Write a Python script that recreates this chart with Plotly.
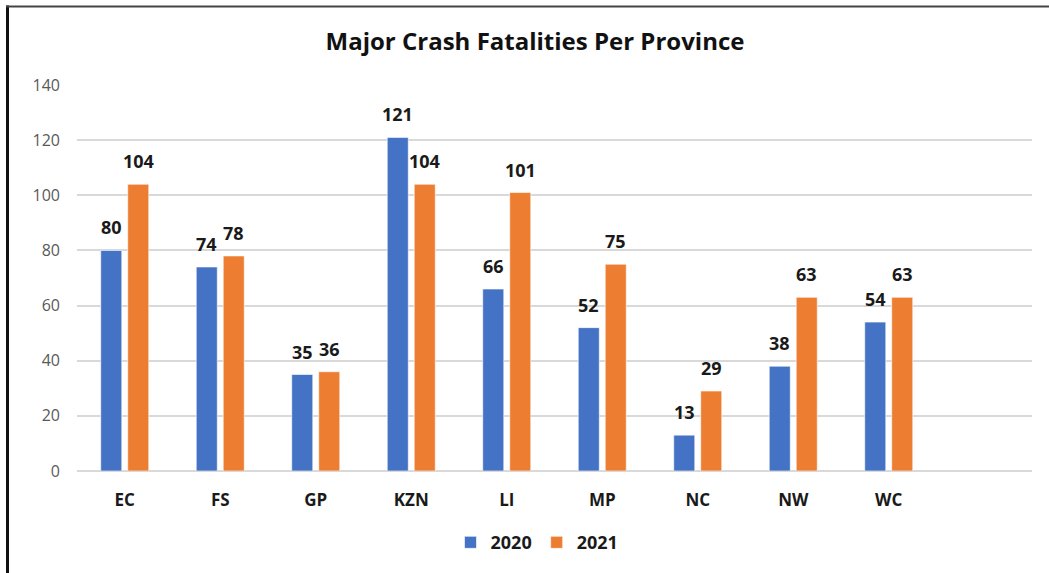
import plotly.graph_objects as go

provinces = ["EC", "FS", "GP", "KZN", "LI", "MP", "NC", "NW", "WC"]
fatalities_2020 = [80, 74, 35, 121, 66, 52, 13, 38, 54]
fatalities_2021 = [104, 78, 36, 104, 101, 75, 29, 63, 63]
y_ticks = [0, 20, 40, 60, 80, 100, 120, 140]

BLUE = "#4472C4"
ORANGE = "#ED7D31"
FONT = "Open Sans, Liberation Sans, Arial"

W, H = 1049, 573
L, R, T, B = 77, 17, 85, 100
pw = W - L - R
ph = H - T - B

fig = go.Figure()
fig.add_trace(go.Bar(name="2020", x=provinces, y=fatalities_2020,
                     marker=dict(color=BLUE, line=dict(color="rgba(255,255,255,0.6)", width=1))))
fig.add_trace(go.Bar(name="2021", x=provinces, y=fatalities_2021,
                     marker=dict(color=ORANGE, line=dict(color="rgba(255,255,255,0.6)", width=1))))

annotations = []
slot = pw / 10 * (1 - 0.435) / 2
for vals, shift in ((fatalities_2020, -slot / 2), (fatalities_2021, slot / 2)):
    for p, v in zip(provinces, vals):
        annotations.append(dict(x=p, y=v, xref="x", yref="y", text=str(v), showarrow=False,
                                xshift=shift, yshift=9, yanchor="bottom",
                                font=dict(family=FONT, size=18, color="#1a1a1a", weight="bold")))

px_x = lambda px: (px - L) / pw
px_y = lambda py: (H - B - py) / ph

shapes = [
    dict(type="line", xref="paper", yref="paper", x0=px_x(7.5), x1=px_x(7.5), y0=px_y(H + 5), y1=px_y(5),
         line=dict(color="#111111", width=3)),
    dict(type="line", xref="paper", yref="paper", x0=px_x(6), x1=px_x(W + 5), y0=px_y(6), y1=px_y(6),
         line=dict(color="#444444", width=2)),
]

fig.update_layout(
    width=W, height=H,
    margin=dict(l=L, r=R, t=T, b=B),
    paper_bgcolor="white", plot_bgcolor="white",
    barmode="group", bargap=0.435, bargroupgap=0.22,
    title=dict(text="Major Crash Fatalities Per Province", x=535 / W, xanchor="center",
               xref="container", yref="container", y=1 - 42 / H, yanchor="middle",
               font=dict(family=FONT, size=24, color="#111111", weight="bold")),
    xaxis=dict(range=[-0.5, 9.5], showgrid=False, showline=False, ticks="", ticklabelstandoff=17,
               tickfont=dict(family=FONT, size=17, color="#1a1a1a", weight="bold")),
    yaxis=dict(range=[0, 140], tickvals=y_ticks, showgrid=True, gridcolor="#D9D9D9", gridwidth=1.5,
               zeroline=True, zerolinecolor="#D9D9D9", zerolinewidth=1.5, showline=False, ticks="",
               ticklabelstandoff=16,
               tickfont=dict(family=FONT, size=16, color="#595959")),
    legend=dict(orientation="h", x=px_x(537), xanchor="center", y=px_y(545), yanchor="middle",
                font=dict(family=FONT, size=18, color="#1a1a1a", weight="bold"),
                itemwidth=30, traceorder="normal", bgcolor="rgba(0,0,0,0)"),
    annotations=annotations,
    shapes=shapes,
)

fig.write_html("out.html", config={"displayModeBar": False},
               post_script="document.body.style.margin='0';")
